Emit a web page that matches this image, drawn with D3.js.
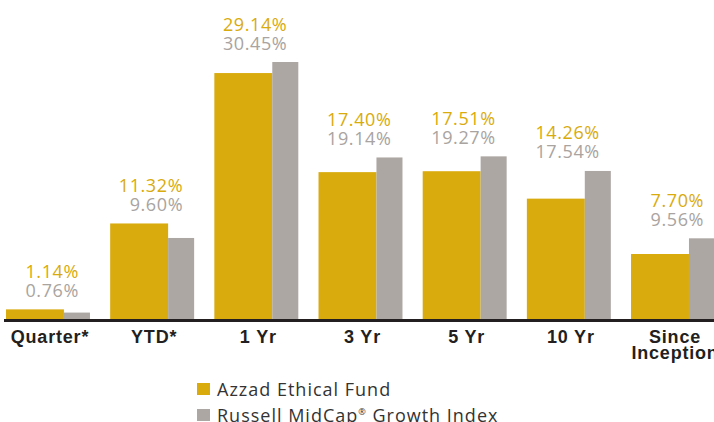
<!DOCTYPE html>
<html lang="en">
<head>
  <meta charset="UTF-8">
  <title>Azzad Ethical Fund vs Russell MidCap Growth</title>
  <script src="https://d3js.org/d3.v7.min.js"></script>
  <style>
    body {
      margin: 0;
      background: #fff;
      font-family: "Open Sans", sans-serif;
    }
    svg { display: block; }
    .val { font-size: 18px; letter-spacing: 0.6px; }
    .tick text { font-size: 18px; font-weight: 700; fill: #231f20; letter-spacing: 0.8px; }
    .legend-text { font-size: 18px; fill: #333; letter-spacing: 1px; }
  </style>
</head>
<body>
<div id="chart"></div>

<script>
  const categories = ["Quarter*", "YTD*", "1 Yr", "3 Yr", "5 Yr", "10 Yr", "Since Inception"];
  const fundValues = [1.14, 11.32, 29.14, 17.40, 17.51, 14.26, 7.70];
  const indexValues = [0.76, 9.60, 30.45, 19.14, 19.27, 17.54, 9.56];
  const seriesNames = ["Azzad Ethical Fund", "Russell MidCap"];

  const width = 714, height = 422;
  const baseline = 319;
  const gold = "#d9ab0c", grey = "#aca7a3";

  const svg = d3.select("#chart")
                .append("svg")
                .attr("width", width)
                .attr("height", height);

  const x = d3.scaleBand()
              .domain(categories)
              .range([6, 715])
              .paddingInner(0.194)
              .paddingOuter(0);

  const y = d3.scaleLinear()
              .domain([0, 35])
              .range([baseline, baseline - 35 * 8.44]);

  const goldW = x.bandwidth() * 0.69;
  const data = categories.map((c, i) => ({cat: c, fund: fundValues[i], idx: indexValues[i]}));

  // bars
  svg.selectAll("rect.fund")
     .data(data)
     .enter()
     .append("rect")
     .attr("class", "fund")
     .attr("x", d => x(d.cat))
     .attr("y", d => y(d.fund))
     .attr("width", goldW)
     .attr("height", d => y(0) - y(d.fund))
     .attr("fill", gold);

  svg.selectAll("rect.idx")
     .data(data)
     .enter()
     .append("rect")
     .attr("class", "idx")
     .attr("x", d => x(d.cat) + goldW)
     .attr("y", d => y(d.idx))
     .attr("width", x.bandwidth() - goldW)
     .attr("height", d => y(0) - y(d.idx))
     .attr("fill", grey);

  // value labels, right aligned over each group
  const labels = svg.selectAll("g.val")
                    .data(data)
                    .enter()
                    .append("g")
                    .attr("class", "val")
                    .attr("transform", d => `translate(${x(d.cat) + x.bandwidth() - 11}, ${Math.min(y(d.fund), y(d.idx)) - 12.5})`);

  labels.append("text")
        .attr("text-anchor", "end")
        .attr("y", -19)
        .attr("fill", gold)
        .text(d => d.fund.toFixed(2) + "%");

  labels.append("text")
        .attr("text-anchor", "end")
        .attr("y", 0)
        .attr("fill", "#a9a49f")
        .text(d => d.idx.toFixed(2) + "%");

  // x axis
  const xAxis = svg.append("g")
                   .attr("transform", `translate(0, ${baseline})`)
                   .call(d3.axisBottom(x).tickSize(0).tickPadding(0));
  xAxis.select(".domain").remove();
  xAxis.selectAll(".tick text")
       .attr("dy", null)
       .attr("x", 2)
       .attr("y", 24)
       .attr("font-family", null)
       .attr("font-size", null)
       .attr("fill", null)
       .each(function(d) {
         if (d === "Since Inception") {
           const t = d3.select(this).text(null);
           d.split(" ").forEach((w, i) => {
             t.append("tspan").attr("x", 2).attr("y", 24 + i * 16).text(w);
           });
         }
       });

  svg.append("line")
     .attr("x1", 4)
     .attr("x2", width)
     .attr("y1", baseline + 1.5)
     .attr("y2", baseline + 1.5)
     .attr("stroke", "#231f20")
     .attr("stroke-width", 3);

  // legend
  const legend = svg.append("g")
                    .attr("transform", "translate(197, 383)");

  [gold, grey].forEach((c, i) => {
    legend.append("rect")
          .attr("x", 0)
          .attr("y", i * 26)
          .attr("width", 13)
          .attr("height", 12)
          .attr("fill", c);
    const t = legend.append("text")
                    .attr("class", "legend-text")
                    .attr("x", 20)
                    .attr("y", 12.5 + i * 26)
                    .text(seriesNames[i]);
    if (i === 1) {
      t.append("tspan").attr("font-size", "9px").attr("dy", -7).text("\u00AE");
      t.append("tspan").attr("dy", 7).text(" Growth Index");
    }
  });
</script>
</body>
</html>
